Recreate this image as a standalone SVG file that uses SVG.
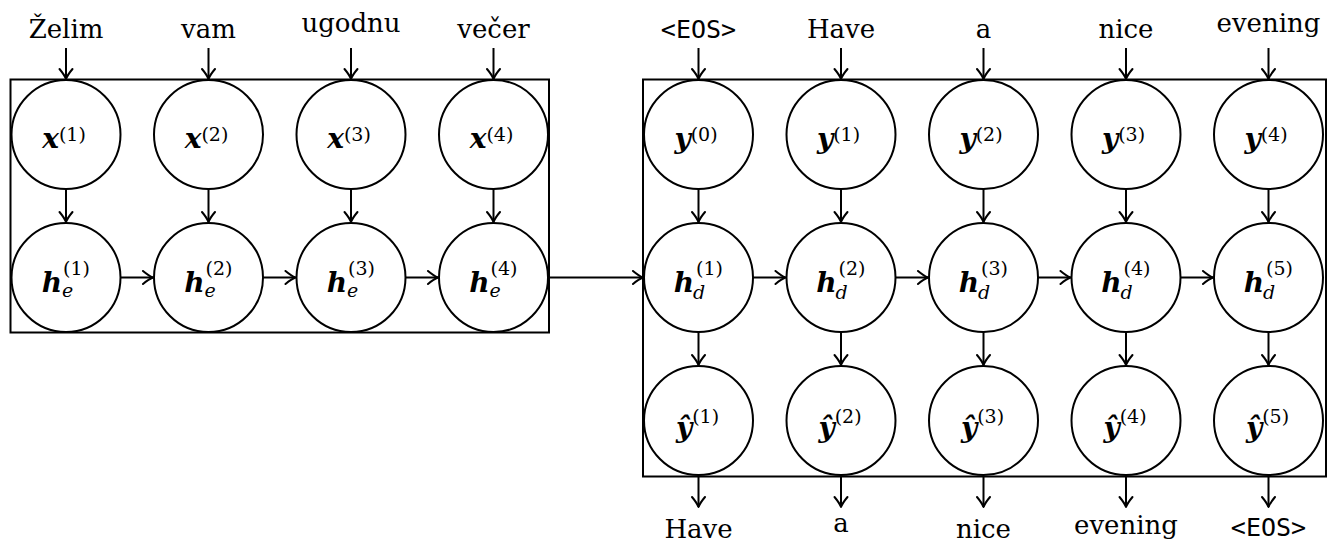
<svg xmlns="http://www.w3.org/2000/svg" width="1338" height="544" viewBox="0 0 1338 544">
<style>
.box{fill:none;stroke:#000;stroke-width:2}
.node circle{fill:#fff;stroke:#000;stroke-width:2}
.conn path{fill:none;stroke:#000;stroke-width:2;marker-end:url(#arr)}
text{font-family:"DejaVu Serif",serif;fill:#000}
.w{font-size:26px;text-anchor:middle}
.tt{font-family:"DejaVu Sans Mono",monospace;font-size:25px;text-anchor:middle}
.bi{font-style:italic;font-weight:bold;font-size:28px}
.sp{font-size:19px}
.sb{font-style:italic;font-size:19px}
</style>
<defs>
<marker id="arr" markerUnits="userSpaceOnUse" viewBox="-12 -8 14 16" markerWidth="14" markerHeight="16" refX="0" refY="0" orient="auto">
<path d="M-10,-6.5 Q-4,-1.5 0,0 Q-4,1.5 -10,6.5" fill="none" stroke="#000" stroke-width="2" stroke-linecap="round" stroke-linejoin="round"/>
</marker>
</defs>
<rect fill="#fff" x="0" y="0" width="1338" height="544"/>
<g id="encoder-box"><rect class="box" x="10.5" y="79.5" width="538.5" height="253"/></g>
<g id="decoder-box"><rect class="box" x="643" y="79.5" width="683" height="397"/></g>

<g id="connectors" class="conn">
<path d="M66,48V79"/><path d="M208.5,48V79"/><path d="M351,48V79"/><path d="M493.5,48V79"/>
<path d="M698.5,48V79"/><path d="M841,48V79"/><path d="M983.5,48V79"/><path d="M1126,48V79"/><path d="M1268.5,48V79"/>
<path d="M66,189V222"/><path d="M208.5,189V222"/><path d="M351,189V222"/><path d="M493.5,189V222"/>
<path d="M698.5,189V222"/><path d="M841,189V222"/><path d="M983.5,189V222"/><path d="M1126,189V222"/><path d="M1268.5,189V222"/>
<path d="M698.5,332V365"/><path d="M841,332V365"/><path d="M983.5,332V365"/><path d="M1126,332V365"/><path d="M1268.5,332V365"/>
<path d="M698.5,476V507"/><path d="M841,476V507"/><path d="M983.5,476V507"/><path d="M1126,476V507"/><path d="M1268.5,476V507"/>
<path d="M120.5,277.5H153"/><path d="M263,277.5H295.5"/><path d="M405.5,277.5H438"/>
<path d="M548,277.5H643"/>
<path d="M753,277.5H785.5"/><path d="M895.5,277.5H928"/><path d="M1038,277.5H1070.5"/><path d="M1180.5,277.5H1213"/>
</g>

<g id="in-labels">
<text class="w" x="66" y="38">Želim</text>
<text class="w" x="208.5" y="38">vam</text>
<text class="w" x="351" y="32">ugodnu</text>
<text class="w" x="493.5" y="38">večer</text>
<text class="tt" x="698.5" y="38">&lt;EOS&gt;</text>
<text class="w" x="841" y="38">Have</text>
<text class="w" x="983.5" y="38">a</text>
<text class="w" x="1126" y="38">nice</text>
<text class="w" x="1268.5" y="32">evening</text>
</g>
<g id="out-labels">
<text class="w" x="698.5" y="538">Have</text>
<text class="w" x="841" y="532">a</text>
<text class="w" x="983.5" y="538">nice</text>
<text class="w" x="1126" y="534">evening</text>
<text class="tt" x="1268.5" y="536">&lt;EOS&gt;</text>
</g>

<g id="x1" class="node"><circle cx="66" cy="134.5" r="54.5"/><text x="64" y="148" text-anchor="middle"><tspan class="bi">x</tspan><tspan class="sp" dy="-7">(1)</tspan></text></g>
<g id="x2" class="node"><circle cx="208.5" cy="134.5" r="54.5"/><text x="206.5" y="148" text-anchor="middle"><tspan class="bi">x</tspan><tspan class="sp" dy="-7">(2)</tspan></text></g>
<g id="x3" class="node"><circle cx="351" cy="134.5" r="54.5"/><text x="349" y="148" text-anchor="middle"><tspan class="bi">x</tspan><tspan class="sp" dy="-7">(3)</tspan></text></g>
<g id="x4" class="node"><circle cx="493.5" cy="134.5" r="54.5"/><text x="491.5" y="148" text-anchor="middle"><tspan class="bi">x</tspan><tspan class="sp" dy="-7">(4)</tspan></text></g>

<g id="he1" class="node"><circle cx="66" cy="277.5" r="54.5"/><text class="bi" x="62" y="291.5" text-anchor="end">h</text><text class="sb" x="62" y="297">e</text><text class="sp" x="63" y="275">(1)</text></g>
<g id="he2" class="node"><circle cx="208.5" cy="277.5" r="54.5"/><text class="bi" x="204.5" y="291.5" text-anchor="end">h</text><text class="sb" x="204.5" y="297">e</text><text class="sp" x="205.5" y="275">(2)</text></g>
<g id="he3" class="node"><circle cx="351" cy="277.5" r="54.5"/><text class="bi" x="347" y="291.5" text-anchor="end">h</text><text class="sb" x="347" y="297">e</text><text class="sp" x="348" y="275">(3)</text></g>
<g id="he4" class="node"><circle cx="493.5" cy="277.5" r="54.5"/><text class="bi" x="489.5" y="291.5" text-anchor="end">h</text><text class="sb" x="489.5" y="297">e</text><text class="sp" x="490.5" y="275">(4)</text></g>

<g id="y0" class="node"><circle cx="698.5" cy="134.5" r="54.5"/><text x="696" y="148" text-anchor="middle"><tspan class="bi">y</tspan><tspan class="sp" dy="-7">(0)</tspan></text></g>
<g id="y1" class="node"><circle cx="841" cy="134.5" r="54.5"/><text x="838.5" y="148" text-anchor="middle"><tspan class="bi">y</tspan><tspan class="sp" dy="-7">(1)</tspan></text></g>
<g id="y2" class="node"><circle cx="983.5" cy="134.5" r="54.5"/><text x="981" y="148" text-anchor="middle"><tspan class="bi">y</tspan><tspan class="sp" dy="-7">(2)</tspan></text></g>
<g id="y3" class="node"><circle cx="1126" cy="134.5" r="54.5"/><text x="1123.5" y="148" text-anchor="middle"><tspan class="bi">y</tspan><tspan class="sp" dy="-7">(3)</tspan></text></g>
<g id="y4" class="node"><circle cx="1268.5" cy="134.5" r="54.5"/><text x="1266" y="148" text-anchor="middle"><tspan class="bi">y</tspan><tspan class="sp" dy="-7">(4)</tspan></text></g>

<g id="hd1" class="node"><circle cx="698.5" cy="277.5" r="54.5"/><text class="bi" x="694" y="291.5" text-anchor="end">h</text><text class="sb" x="693" y="299">d</text><text class="sp" x="696" y="275">(1)</text></g>
<g id="hd2" class="node"><circle cx="841" cy="277.5" r="54.5"/><text class="bi" x="836.5" y="291.5" text-anchor="end">h</text><text class="sb" x="835.5" y="299">d</text><text class="sp" x="838.5" y="275">(2)</text></g>
<g id="hd3" class="node"><circle cx="983.5" cy="277.5" r="54.5"/><text class="bi" x="979" y="291.5" text-anchor="end">h</text><text class="sb" x="978" y="299">d</text><text class="sp" x="981" y="275">(3)</text></g>
<g id="hd4" class="node"><circle cx="1126" cy="277.5" r="54.5"/><text class="bi" x="1121.5" y="291.5" text-anchor="end">h</text><text class="sb" x="1120.5" y="299">d</text><text class="sp" x="1123.5" y="275">(4)</text></g>
<g id="hd5" class="node"><circle cx="1268.5" cy="277.5" r="54.5"/><text class="bi" x="1264" y="291.5" text-anchor="end">h</text><text class="sb" x="1263" y="299">d</text><text class="sp" x="1266" y="275">(5)</text></g>

<g id="yh1" class="node"><circle cx="698.5" cy="420.5" r="54.5"/><text x="697.5" y="437" text-anchor="middle"><tspan class="bi">ŷ</tspan><tspan class="sp" dy="-14">(1)</tspan></text></g>
<g id="yh2" class="node"><circle cx="841" cy="420.5" r="54.5"/><text x="840" y="437" text-anchor="middle"><tspan class="bi">ŷ</tspan><tspan class="sp" dy="-14">(2)</tspan></text></g>
<g id="yh3" class="node"><circle cx="983.5" cy="420.5" r="54.5"/><text x="982.5" y="437" text-anchor="middle"><tspan class="bi">ŷ</tspan><tspan class="sp" dy="-14">(3)</tspan></text></g>
<g id="yh4" class="node"><circle cx="1126" cy="420.5" r="54.5"/><text x="1125" y="437" text-anchor="middle"><tspan class="bi">ŷ</tspan><tspan class="sp" dy="-14">(4)</tspan></text></g>
<g id="yh5" class="node"><circle cx="1268.5" cy="420.5" r="54.5"/><text x="1267.5" y="437" text-anchor="middle"><tspan class="bi">ŷ</tspan><tspan class="sp" dy="-14">(5)</tspan></text></g>
</svg>
